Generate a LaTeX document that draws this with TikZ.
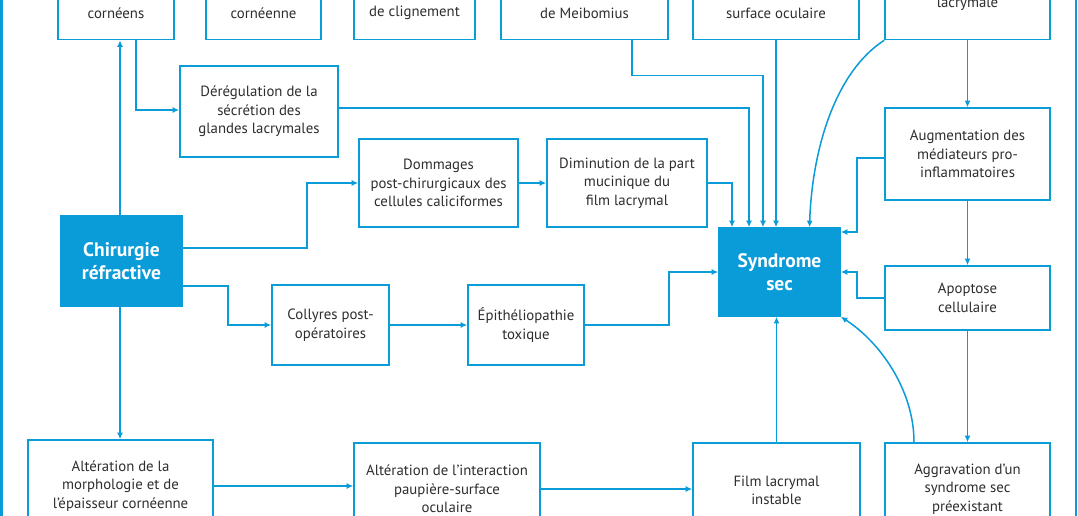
\documentclass[tikz,border=0pt]{standalone}
\usepackage{fontspec}
\setmainfont{PT Sans}
\usetikzlibrary{arrows.meta}
\definecolor{bl}{HTML}{0A9BD9}
\definecolor{tx}{HTML}{2E2E2E}
\begin{document}
\begin{tikzpicture}[x=1pt,y=-1pt,
 box/.style={draw=bl, line width=1.6pt, fill=white, inner sep=0pt, align=center, text=tx, font=\fontsize{14.8}{18.5}\selectfont},
 key/.style={draw=bl, line width=1.6pt, fill=bl, inner sep=0pt, align=center, text=white, font=\fontsize{19.5}{23.5}\selectfont\bfseries},
 txt/.style={inner sep=0pt, align=center, text=tx, font=\fontsize{14.8}{18.5}\selectfont},
 con/.style={draw=bl, line width=1.5pt, -{Latex[length=6.5pt,width=6pt]}},
 frame/.style={draw=bl, line width=2.8pt}]
\useasboundingbox (0,0) rectangle (1078,516);
\clip (0,0) rectangle (1078,516);
% frame
\coordinate (fl1) at (1.5,-10); \coordinate (fl2) at (1.5,530);
\coordinate (fr1) at (1076,-10); \coordinate (fr2) at (1076,530);
\draw[frame] (fl1) -- (fl2);
\draw[frame] (fr1) -- (fr2);
% top row (cut off)
\node[box, minimum width=116pt, minimum height=90pt] (A) at (116,-5.5) {};
\node[txt] (tA) at (116,13) {cornéens};
\node[box, minimum width=115pt, minimum height=90pt] (B) at (263.5,-5.5) {};
\node[txt] (tB) at (263.5,13) {cornéenne};
\node[box, minimum width=121pt, minimum height=90pt] (C) at (414.5,-5.5) {};
\node[txt] (tC) at (414.5,13) {de clignement};
\node[box, minimum width=167pt, minimum height=90pt] (D) at (584.5,-5.5) {};
\node[txt] (tD) at (584.5,13) {de Meibomius};
\node[box, minimum width=166pt, minimum height=90pt] (E) at (776,-5.5) {};
\node[txt] (tE) at (776,13) {surface oculaire};
\node[box, minimum width=165pt, minimum height=90pt] (F) at (967.5,-5.5) {};
\node[txt] (tF) at (967.5,4) {lacrymale};
% middle
\node[box, minimum width=158pt, minimum height=91pt] (G) at (259,111.5) {Dérégulation de la\\sécrétion des\\glandes lacrymales};
\node[box, minimum width=159pt, minimum height=88pt] (H) at (438.5,183) {Dommages\\post-chirurgicaux des\\cellules caliciformes};
\node[box, minimum width=160pt, minimum height=88pt] (I) at (627,183) {Diminution de la part\\mucinique du\\film lacrymal};
\node[key, minimum width=121pt, minimum height=88pt] (S) at (779.5,272) {Syndrome\\sec};
\node[box, minimum width=165pt, minimum height=92pt] (Aug) at (967.5,154) {Augmentation des\\médiateurs pro-\\inflammatoires};
\node[box, minimum width=165pt, minimum height=64pt] (Apo) at (967.5,298) {Apoptose\\cellulaire};
\node[key, minimum width=121pt, minimum height=90pt] (Ch) at (121.5,261) {Chirurgie\\réfractive};
\node[box, minimum width=117pt, minimum height=80pt] (Co) at (330.5,325) {Collyres post-\\opératoires};
\node[box, minimum width=116pt, minimum height=80pt] (Ep) at (526,325) {Épithéliopathie\\toxique};
% bottom row (cut off)
\node[box, minimum width=185pt, minimum height=92pt] (Mo) at (120.5,486) {Altération de la\\morphologie et de\\l'épaisseur cornéenne};
\node[box, minimum width=186pt, minimum height=92pt] (In) at (447,489) {Altération de l'interaction\\paupière-surface\\oculaire};
\node[box, minimum width=167pt, minimum height=95pt] (Fi) at (776.5,490.5) {Film lacrymal\\instable};
\node[box, minimum width=165pt, minimum height=92pt] (Ag) at (967.5,489) {Aggravation d'un\\syndrome sec\\préexistant};
% connectors
\draw[con] ([xshift=-1.5pt]Ch.north) -- ([xshift=-1.5pt]Ch.north |- A.south);
\draw[con] ([xshift=20pt]A.south) |- ([yshift=1.5pt]G.west);
\draw[con] ([yshift=13pt]Ch.east) -- ++(124,0) |- (H.west);
\draw[con] ([yshift=-25pt]Ch.east) -- ++(45,0) |- (Co.west);
\draw[con] ([xshift=-1.5pt]Ch.south) -- ([xshift=-1.5pt]Ch.south |- Mo.north);
\draw[con] (Co.east) -- (Ep.west);
\draw[con] (Ep.east) -- ++(84,0) |- (S.west);
\draw[con] (H.east) -- (H.east -| I.west);
\draw[con] (I.east) -| ([xshift=-47.5pt]S.north);
\draw[con] ([yshift=3.5pt]G.east) -| ([xshift=-30.5pt]S.north);
\draw[con] ([xshift=47.5pt]D.south) -- ++(0,35) -| ([xshift=-16.5pt]S.north);
\draw[con] (E.south) -- (E.south |- S.north);
\draw[con] (F.south west) .. controls (835,72) and (812,150) .. ([xshift=30pt]S.north);
\draw[con] (F.south) -- (Aug.north);
\draw[con] ([yshift=-4pt]Aug.west) -- ++(-27,0) |- ([yshift=40pt]S.east);
\draw[con] (Aug.south) -- (Apo.north);
\draw[con] (Apo.west) -- ++(-27,0) |- (S.east);
\draw[con] (Apo.south) -- (Ag.north);
\draw[con] ([xshift=-53.5pt]Ag.north) .. controls (914,390) and (880,342) .. (S.south east);
\draw[con] (Fi.north) -- (Fi.north |- S.south);
\draw[con] (Mo.east) -- (Mo.east -| In.west);
\draw[con] (In.east) -- (In.east -| Fi.west);
\end{tikzpicture}
\end{document}
